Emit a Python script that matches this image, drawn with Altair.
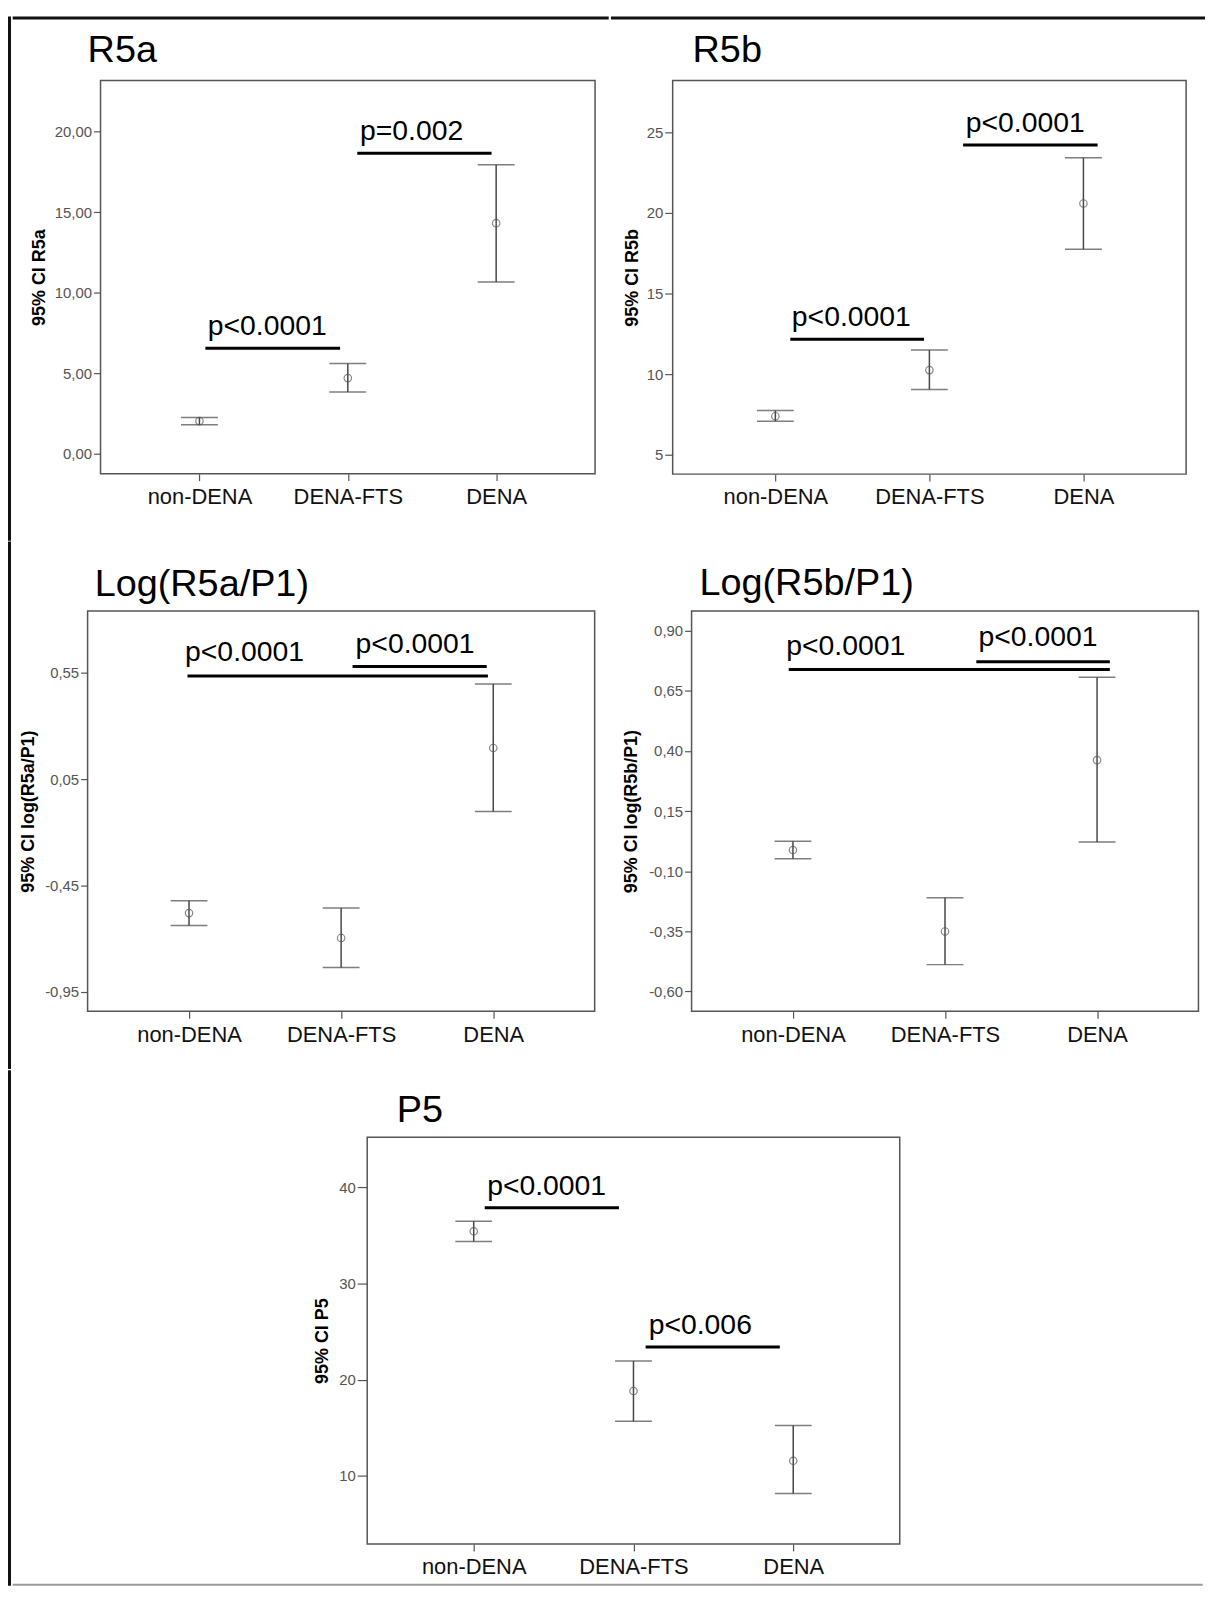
import altair as alt
import pandas as pd

# ---------------- data ----------------
CATEGORIES = ["non-DENA", "DENA-FTS", "DENA"]
CAT_POS = [0, 1, 2]

TITLES = ["R5a", "R5b", "Log(R5a/P1)", "Log(R5b/P1)", "P5"]
Y_TITLES = ["95% CI R5a", "95% CI R5b", "95% CI log(R5a/P1)",
            "95% CI log(R5b/P1)", "95% CI P5"]

# R5a
R5A_MEAN = [2.04, 4.71, 14.33]
R5A_LOWER = [1.81, 3.85, 10.67]
R5A_UPPER = [2.27, 5.62, 17.95]
R5A_TICKS = [0, 5, 10, 15, 20]
R5A_P_LABELS = ["p<0.0001", "p=0.002"]
R5A_P_X1 = [0.04, 1.064]
R5A_P_X2 = [0.948, 1.969]
R5A_P_Y = [6.57, 18.67]
R5A_P_TX = [0.056, 1.082]
R5A_P_TY = [7.37, 19.52]

# R5b
R5B_MEAN = [7.39, 10.25, 20.58]
R5B_LOWER = [7.08, 9.05, 17.74]
R5B_UPPER = [7.74, 11.49, 23.42]
R5B_TICKS = [5, 10, 15, 20, 25]
R5B_P_LABELS = ["p<0.0001", "p<0.0001"]
R5B_P_X1 = [0.097, 1.219]
R5B_P_X2 = [0.965, 2.092]
R5B_P_Y = [12.16, 24.2]
R5B_P_TX = [0.107, 1.236]
R5B_P_TY = [12.99, 25.0]

# Log(R5a/P1)
LA_MEAN = [-0.58, -0.697, 0.197]
LA_LOWER = [-0.638, -0.836, -0.102]
LA_UPPER = [-0.522, -0.556, 0.4985]
LA_TICKS = [-0.95, -0.45, 0.05, 0.55]
LA_P_LABELS = ["p<0.0001", "p<0.0001"]
LA_P_X1 = [-0.01, 1.075]
LA_P_X2 = [1.965, 1.957]
LA_P_Y = [0.536, 0.58]
LA_P_TX = [-0.026, 1.095]
LA_P_TY = [0.6076, 0.6436]

# Log(R5b/P1)
LB_MEAN = [-0.012, -0.351, 0.362]
LB_LOWER = [-0.048, -0.489, 0.021]
LB_UPPER = [0.024, -0.211, 0.707]
LB_TICKS = [-0.60, -0.35, -0.10, 0.15, 0.40, 0.65, 0.90]
LB_P_LABELS = ["p<0.0001", "p<0.0001"]
LB_P_X1 = [-0.028, 1.206]
LB_P_X2 = [2.084, 2.084]
LB_P_Y = [0.739, 0.772]
LB_P_TX = [-0.044, 1.220]
LB_P_TY = [0.8006, 0.8354]

# P5
P5_MEAN = [35.41, 18.82, 11.58]
P5_LOWER = [34.35, 15.68, 8.18]
P5_UPPER = [36.45, 21.95, 15.24]
P5_TICKS = [10, 20, 30, 40]
P5_P_LABELS = ["p<0.0001", "p<0.006"]
P5_P_X1 = [0.069, 1.076]
P5_P_X2 = [0.909, 1.916]
P5_P_Y = [37.86, 23.4]
P5_P_TX = [0.084, 1.095]
P5_P_TY = [39.20, 24.74]

# ---------------- layout / style ----------------
FONT = "Liberation Sans"
EB = "#474747"
R1, R2, R3 = 77.5, 609.7, 1137.3          # plot-top of each row (page px)
PANELS = [
    dict(ox=99.3, oy=R1, w=497, h=395, ydom=[-1.22, 23.18], dec=2, ytx=-56, tick=7,
         tx=86.3, ty=59.3),
    dict(ox=672, oy=R1, w=516, h=395.5, ydom=[3.8, 28.2], dec=0, ytx=-35, tick=8,
         tx=692, ty=59.3),
    dict(ox=86.4, oy=R2, w=509.6, h=402.3, ydom=[-1.042, 0.842], dec=2, ytx=-54.6, tick=7,
         tx=93.5, ty=595),
    dict(ox=690.6, oy=R2, w=509.4, h=402.3, ydom=[-0.683, 0.983], dec=2, ytx=-55.7, tick=7,
         tx=698.5, ty=594),
    dict(ox=367.3, oy=R3, w=535.2, h=408.7, ydom=[2.94, 45.17], dec=0, ytx=-40, tick=10,
         tx=397, ty=1121.7),
]
FX0, FT, FW = 8, 13, 3          # frame left, frame top, frame thickness
YB1, YB2, YB3 = 540, 1070, 1588  # row boundaries
XS, XR = 610, 1207               # column split, right end
FRAME = "#111111"

DUMMY = pd.DataFrame({"d": [0]})


def abs_rect(ox, oy, ax1, ax2, ay1, ay2, color=FRAME, opacity=1.0):
    return alt.Chart(DUMMY).mark_rect(color=color, opacity=opacity).encode(
        x=alt.value(ax1 - ox), x2=alt.value(ax2 - ox),
        y=alt.value(ay1 - oy), y2=alt.value(ay2 - oy))


def spacer(oy, y1, y2):
    return abs_rect(FX0, oy, FX0, FX0 + FW, y1, y2).properties(
        width=FW, height=1, view=alt.ViewBackground(strokeOpacity=0, strokeWidth=0))


def make_panel(i, mean, lower, upper, ticks, labels, x1, x2, y, tx, ty, extras):
    p = PANELS[i]
    xs = alt.Scale(domain=[-2 / 3, 8 / 3], nice=False, zero=False)
    ys = alt.Scale(domain=p["ydom"], nice=False, zero=False)
    df = pd.DataFrame({"pos": CAT_POS, "mean": mean, "lower": lower, "upper": upper})
    ann = pd.DataFrame({"x1": x1, "x2": x2, "y": y, "tx": tx, "ty": ty, "label": labels})
    cat_expr = "[" + ",".join("'%s'" % c for c in CATEGORIES) + "][datum.value]"
    xaxis = alt.Axis(values=CAT_POS, title=None, labelExpr=cat_expr, labelFont=FONT,
                     labelFontSize=22, labelColor="#111111", tickSize=7, tickColor="#555555",
                     tickWidth=1.2, labelPadding=6, domain=False, grid=False,
                     labelFlush=False, labelOverlap=False)
    fmt = ".2f" if p["dec"] == 2 else "d"
    yaxis = alt.Axis(values=ticks, title=Y_TITLES[i], titleX=p["ytx"],
                     titleBaseline="alphabetic", titleFont=FONT, titleFontSize=18,
                     titleFontWeight="bold", titleColor="#000000", labelFont=FONT,
                     labelFontSize=15, labelColor="#555555", tickSize=p["tick"],
                     tickColor="#555555", tickWidth=1.2, labelPadding=2, domain=False,
                     grid=False, format=fmt,
                     labelExpr="replace(replace(datum.label, '.', ','), '\u2212', '-')",
                     labelOverlap=False)

    def X(f):
        return alt.X(f, scale=xs, axis=xaxis)

    def Y(f):
        return alt.Y(f, scale=ys, axis=yaxis)

    bars = alt.Chart(df).mark_rule(color=EB, strokeWidth=1.5).encode(
        x=X("pos:Q"), y=Y("lower:Q"), y2="upper:Q")
    cap_lo = alt.Chart(df).mark_tick(orient="horizontal", size=37, thickness=1.5, color=EB).encode(
        x=X("pos:Q"), y=Y("lower:Q"))
    cap_hi = alt.Chart(df).mark_tick(orient="horizontal", size=37, thickness=1.5, color=EB).encode(
        x=X("pos:Q"), y=Y("upper:Q"))
    pts = alt.Chart(df).mark_point(shape="circle", filled=False, size=56, color="#555555",
                                   strokeWidth=1.2).encode(x=X("pos:Q"), y=Y("mean:Q"))
    abars = alt.Chart(ann).mark_rule(color="#000000", strokeWidth=3).encode(
        x=X("x1:Q"), x2="x2:Q", y=Y("y:Q"))
    atext = alt.Chart(ann).mark_text(align="left", baseline="alphabetic", font=FONT,
                                     fontSize=28.5, color="#000000").encode(
        x=X("tx:Q"), y=Y("ty:Q"), text="label:N")
    title = alt.Chart(DUMMY).mark_text(text=TITLES[i], align="left", baseline="alphabetic",
                                       font=FONT, fontSize=38, color="#000000").encode(
        x=alt.value(p["tx"] - p["ox"]), y=alt.value(p["ty"] - p["oy"]))
    layers = extras + [bars, cap_lo, cap_hi, pts, abars, atext, title]
    return alt.layer(*layers).properties(width=p["w"], height=p["h"])


P = PANELS
p1 = make_panel(0, R5A_MEAN, R5A_LOWER, R5A_UPPER, R5A_TICKS, R5A_P_LABELS,
                R5A_P_X1, R5A_P_X2, R5A_P_Y, R5A_P_TX, R5A_P_TY,
                [abs_rect(P[0]["ox"], P[0]["oy"], FX0 + FW, XS, FT, FT + FW)])
p2 = make_panel(1, R5B_MEAN, R5B_LOWER, R5B_UPPER, R5B_TICKS, R5B_P_LABELS,
                R5B_P_X1, R5B_P_X2, R5B_P_Y, R5B_P_TX, R5B_P_TY,
                [abs_rect(P[1]["ox"], P[1]["oy"], XS, XR, FT, FT + FW)])
p3 = make_panel(2, LA_MEAN, LA_LOWER, LA_UPPER, LA_TICKS, LA_P_LABELS,
                LA_P_X1, LA_P_X2, LA_P_Y, LA_P_TX, LA_P_TY,
                [abs_rect(P[2]["ox"], P[2]["oy"], FX0 + FW, XS, 560, 561, opacity=0)])
p4 = make_panel(3, LB_MEAN, LB_LOWER, LB_UPPER, LB_TICKS, LB_P_LABELS,
                LB_P_X1, LB_P_X2, LB_P_Y, LB_P_TX, LB_P_TY,
                [abs_rect(P[3]["ox"], P[3]["oy"], XS, XR, 560, 561, opacity=0)])
p5 = make_panel(4, P5_MEAN, P5_LOWER, P5_UPPER, P5_TICKS, P5_P_LABELS,
                P5_P_X1, P5_P_X2, P5_P_Y, P5_P_TX, P5_P_TY,
                [abs_rect(P[4]["ox"], P[4]["oy"], FX0 + FW, XR, YB3 - 2, YB3, color="#9a9a9a")])

row1 = alt.hconcat(spacer(R1, FT, YB1), p1, p2, spacing=0)
row2 = alt.hconcat(spacer(R2, YB1, YB2), p3, p4, spacing=0)
row3 = alt.hconcat(spacer(R3, YB2, YB3), p5, spacing=0)
chart = alt.vconcat(row1, row2, row3, spacing=0).properties(
    padding={"left": 0, "top": 3, "right": 0, "bottom": 0}
).configure_view(stroke="#555555", strokeWidth=1.5)

chart.save("out.html", embed_options={"renderer": "svg", "actions": False})
